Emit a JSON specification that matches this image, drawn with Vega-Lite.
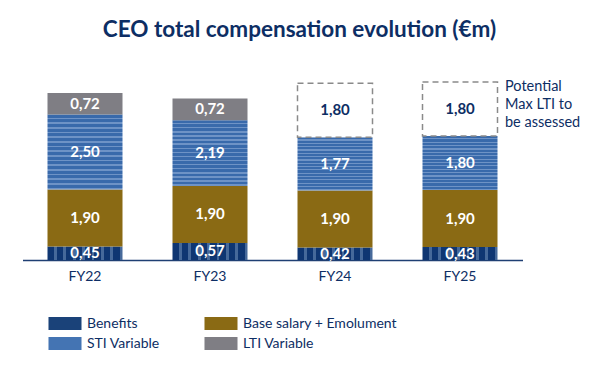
{
  "$schema": "https://vega.github.io/schema/vega-lite/v6.json",
  "width": 500,
  "height": 180,
  "autosize": {"type": "none"},
  "padding": {"left": 22.5, "top": 80, "right": 77.5, "bottom": 116},
  "background": "white",
  "title": {
    "text": "CEO total compensation evolution (€m)",
    "font": "Lato",
    "fontSize": 22.5,
    "fontWeight": "bold",
    "color": "#0d2e64",
    "anchor": "middle",
    "dx": 27,
    "offset": 38
  },
  "config": {
    "view": {"stroke": null},
    "font": "Lato"
  },
  "datasets": {
    "comp": [
      {"year": "FY22", "component": "Benefits", "k": 1, "value": 0.45, "status": "actual"},
      {"year": "FY22", "component": "Base salary + Emolument", "k": 2, "value": 1.90, "status": "actual"},
      {"year": "FY22", "component": "STI Variable", "k": 3, "value": 2.50, "status": "actual"},
      {"year": "FY22", "component": "LTI Variable", "k": 4, "value": 0.72, "status": "actual"},
      {"year": "FY23", "component": "Benefits", "k": 1, "value": 0.57, "status": "actual"},
      {"year": "FY23", "component": "Base salary + Emolument", "k": 2, "value": 1.90, "status": "actual"},
      {"year": "FY23", "component": "STI Variable", "k": 3, "value": 2.19, "status": "actual"},
      {"year": "FY23", "component": "LTI Variable", "k": 4, "value": 0.72, "status": "actual"},
      {"year": "FY24", "component": "Benefits", "k": 1, "value": 0.42, "status": "actual"},
      {"year": "FY24", "component": "Base salary + Emolument", "k": 2, "value": 1.90, "status": "actual"},
      {"year": "FY24", "component": "STI Variable", "k": 3, "value": 1.77, "status": "actual"},
      {"year": "FY24", "component": "LTI Variable", "k": 4, "value": 1.80, "status": "potential"},
      {"year": "FY25", "component": "Benefits", "k": 1, "value": 0.43, "status": "actual"},
      {"year": "FY25", "component": "Base salary + Emolument", "k": 2, "value": 1.90, "status": "actual"},
      {"year": "FY25", "component": "STI Variable", "k": 3, "value": 1.80, "status": "actual"},
      {"year": "FY25", "component": "LTI Variable", "k": 4, "value": 1.80, "status": "potential"}
    ],
    "note": [
      {"year": "FY25", "top": 5.93, "note": ["Potential", "Max LTI to", "be assessed"]}
    ]
  },
  "layer": [
    {
      "data": {"name": "comp"},
      "transform": [
        {"stack": "value", "groupby": ["year"], "sort": [{"field": "k", "order": "ascending"}], "as": ["v0", "v1"]}
      ],
      "mark": {"type": "bar", "strokeWidth": 1.5},
      "encoding": {
        "x": {
          "field": "year", "type": "nominal",
          "scale": {"paddingInner": 0.4, "paddingOuter": 0.2},
          "axis": {
            "title": null, "labelAngle": 0, "ticks": false,
            "labelFont": "Lato", "labelFontSize": 14, "labelColor": "#0d2e64",
            "labelPadding": 9, "domainColor": "#1f3f73", "domainWidth": 1.5
          }
        },
        "y": {"field": "v0", "type": "quantitative", "scale": {"domain": [0, 6]}, "axis": null},
        "y2": {"field": "v1"},
        "color": {
          "condition": [
            {"test": "datum.status === 'potential'", "value": "white"},
            {"test": "datum.component === 'Benefits'", "value": {"gradient": "linear", "x1": 0, "y1": 0, "x2": 1, "y2": 0, "stops": [
                {"offset": 0, "color": "#0f3672"}, {"offset": 0.0875, "color": "#0f3672"}, {"offset": 0.0875, "color": "#46699a"}, {"offset": 0.125, "color": "#46699a"},
                {"offset": 0.125, "color": "#0f3672"}, {"offset": 0.2125, "color": "#0f3672"}, {"offset": 0.2125, "color": "#46699a"}, {"offset": 0.25, "color": "#46699a"},
                {"offset": 0.25, "color": "#0f3672"}, {"offset": 0.3375, "color": "#0f3672"}, {"offset": 0.3375, "color": "#46699a"}, {"offset": 0.375, "color": "#46699a"},
                {"offset": 0.375, "color": "#0f3672"}, {"offset": 0.4625, "color": "#0f3672"}, {"offset": 0.4625, "color": "#46699a"}, {"offset": 0.5, "color": "#46699a"},
                {"offset": 0.5, "color": "#0f3672"}, {"offset": 0.5875, "color": "#0f3672"}, {"offset": 0.5875, "color": "#46699a"}, {"offset": 0.625, "color": "#46699a"},
                {"offset": 0.625, "color": "#0f3672"}, {"offset": 0.7125, "color": "#0f3672"}, {"offset": 0.7125, "color": "#46699a"}, {"offset": 0.75, "color": "#46699a"},
                {"offset": 0.75, "color": "#0f3672"}, {"offset": 0.8375, "color": "#0f3672"}, {"offset": 0.8375, "color": "#46699a"}, {"offset": 0.875, "color": "#46699a"},
                {"offset": 0.875, "color": "#0f3672"}, {"offset": 0.9625, "color": "#0f3672"}, {"offset": 0.9625, "color": "#46699a"}, {"offset": 1, "color": "#46699a"}
              ]}},
            {"test": "datum.component === 'STI Variable'", "value": {"gradient": "linear", "x1": 0, "y1": 0, "x2": 0, "y2": 1, "stops": [
                {"offset": 0, "color": "#396aab"}, {"offset": 0.040625, "color": "#396aab"}, {"offset": 0.040625, "color": "#6e93c6"}, {"offset": 0.0625, "color": "#6e93c6"},
                {"offset": 0.0625, "color": "#396aab"}, {"offset": 0.103125, "color": "#396aab"}, {"offset": 0.103125, "color": "#6e93c6"}, {"offset": 0.125, "color": "#6e93c6"},
                {"offset": 0.125, "color": "#396aab"}, {"offset": 0.165625, "color": "#396aab"}, {"offset": 0.165625, "color": "#6e93c6"}, {"offset": 0.1875, "color": "#6e93c6"},
                {"offset": 0.1875, "color": "#396aab"}, {"offset": 0.228125, "color": "#396aab"}, {"offset": 0.228125, "color": "#6e93c6"}, {"offset": 0.25, "color": "#6e93c6"},
                {"offset": 0.25, "color": "#396aab"}, {"offset": 0.290625, "color": "#396aab"}, {"offset": 0.290625, "color": "#6e93c6"}, {"offset": 0.3125, "color": "#6e93c6"},
                {"offset": 0.3125, "color": "#396aab"}, {"offset": 0.353125, "color": "#396aab"}, {"offset": 0.353125, "color": "#6e93c6"}, {"offset": 0.375, "color": "#6e93c6"},
                {"offset": 0.375, "color": "#396aab"}, {"offset": 0.415625, "color": "#396aab"}, {"offset": 0.415625, "color": "#6e93c6"}, {"offset": 0.4375, "color": "#6e93c6"},
                {"offset": 0.4375, "color": "#396aab"}, {"offset": 0.478125, "color": "#396aab"}, {"offset": 0.478125, "color": "#6e93c6"}, {"offset": 0.5, "color": "#6e93c6"},
                {"offset": 0.5, "color": "#396aab"}, {"offset": 0.540625, "color": "#396aab"}, {"offset": 0.540625, "color": "#6e93c6"}, {"offset": 0.5625, "color": "#6e93c6"},
                {"offset": 0.5625, "color": "#396aab"}, {"offset": 0.603125, "color": "#396aab"}, {"offset": 0.603125, "color": "#6e93c6"}, {"offset": 0.625, "color": "#6e93c6"},
                {"offset": 0.625, "color": "#396aab"}, {"offset": 0.665625, "color": "#396aab"}, {"offset": 0.665625, "color": "#6e93c6"}, {"offset": 0.6875, "color": "#6e93c6"},
                {"offset": 0.6875, "color": "#396aab"}, {"offset": 0.728125, "color": "#396aab"}, {"offset": 0.728125, "color": "#6e93c6"}, {"offset": 0.75, "color": "#6e93c6"},
                {"offset": 0.75, "color": "#396aab"}, {"offset": 0.790625, "color": "#396aab"}, {"offset": 0.790625, "color": "#6e93c6"}, {"offset": 0.8125, "color": "#6e93c6"},
                {"offset": 0.8125, "color": "#396aab"}, {"offset": 0.853125, "color": "#396aab"}, {"offset": 0.853125, "color": "#6e93c6"}, {"offset": 0.875, "color": "#6e93c6"},
                {"offset": 0.875, "color": "#396aab"}, {"offset": 0.915625, "color": "#396aab"}, {"offset": 0.915625, "color": "#6e93c6"}, {"offset": 0.9375, "color": "#6e93c6"},
                {"offset": 0.9375, "color": "#396aab"}, {"offset": 0.978125, "color": "#396aab"}, {"offset": 0.978125, "color": "#6e93c6"}, {"offset": 1, "color": "#6e93c6"}
              ]}}
          ],
          "field": "component", "type": "nominal",
          "scale": {
            "domain": ["Benefits", "Base salary + Emolument", "STI Variable", "LTI Variable"],
            "range": ["#1a4279", "#8a6a14", "#4474b3", "#7f7e84"]
          },
          "legend": {
            "title": null,
            "orient": "none",
            "legendX": 35.5,
            "legendY": 236.5,
            "direction": "horizontal",
            "columns": 2,
            "columnPadding": 44,
            "rowPadding": 6,
            "padding": 0,
            "symbolType": "M-2.54,-1H2.54V1H-2.54Z",
            "symbolSize": 169,
            "symbolStrokeWidth": 0,
            "symbolOpacity": 1,
            "labelFont": "Lato",
            "labelFontSize": 14,
            "labelColor": "#0d2e64",
            "labelOffset": 15,
            "labelLimit": 300,
            "encode": {
              "symbols": {
                "update": {
                  "fill": {"signal": "datum.label === 'Benefits' ? {gradient: 'linear', x1: 0, y1: 0, x2: 1, y2: 0, stops: [{offset: 0, color: '#0f3672'}, {offset: 0.117, color: '#0f3672'}, {offset: 0.117, color: '#46699a'}, {offset: 0.167, color: '#46699a'}, {offset: 0.167, color: '#0f3672'}, {offset: 0.283, color: '#0f3672'}, {offset: 0.283, color: '#46699a'}, {offset: 0.333, color: '#46699a'}, {offset: 0.333, color: '#0f3672'}, {offset: 0.45, color: '#0f3672'}, {offset: 0.45, color: '#46699a'}, {offset: 0.5, color: '#46699a'}, {offset: 0.5, color: '#0f3672'}, {offset: 0.617, color: '#0f3672'}, {offset: 0.617, color: '#46699a'}, {offset: 0.667, color: '#46699a'}, {offset: 0.667, color: '#0f3672'}, {offset: 0.783, color: '#0f3672'}, {offset: 0.783, color: '#46699a'}, {offset: 0.833, color: '#46699a'}, {offset: 0.833, color: '#0f3672'}, {offset: 0.95, color: '#0f3672'}, {offset: 0.95, color: '#46699a'}, {offset: 1, color: '#46699a'}]} : datum.label === 'STI Variable' ? {gradient: 'linear', x1: 0, y1: 0, x2: 0, y2: 1, stops: [{offset: 0, color: '#396aab'}, {offset: 0.22, color: '#396aab'}, {offset: 0.22, color: '#6e93c6'}, {offset: 0.333, color: '#6e93c6'}, {offset: 0.333, color: '#396aab'}, {offset: 0.555, color: '#396aab'}, {offset: 0.555, color: '#6e93c6'}, {offset: 0.667, color: '#6e93c6'}, {offset: 0.667, color: '#396aab'}, {offset: 0.889, color: '#396aab'}, {offset: 0.889, color: '#6e93c6'}, {offset: 1, color: '#6e93c6'}]} : scale('color', datum.value)"}
                }
              }
            }
          }
        },
        "stroke": {"condition": {"test": "datum.status === 'potential'", "value": "#8a8a8a"}, "value": null},
        "strokeDash": {"condition": {"test": "datum.status === 'potential'", "value": [6, 4]}, "value": [1, 0]}
      }
    },
    {
      "data": {"name": "comp"},
      "transform": [
        {"stack": "value", "groupby": ["year"], "sort": [{"field": "k", "order": "ascending"}], "as": ["v0", "v1"]},
        {"calculate": "(datum.v0 + datum.v1) / 2", "as": "mid"},
        {"calculate": "replace(format(datum.value, '.2f'), '.', ',')", "as": "label"}
      ],
      "mark": {"type": "text", "font": "Lato", "fontSize": 15, "fontWeight": "bold", "baseline": "middle"},
      "encoding": {
        "x": {"field": "year", "type": "nominal"},
        "y": {"field": "mid", "type": "quantitative"},
        "text": {"field": "label"},
        "color": {"condition": {"test": "datum.status === 'potential'", "value": "#0d2e64"}, "value": "white"}
      }
    },
    {
      "data": {"name": "note"},
      "mark": {"type": "text", "font": "Lato", "fontSize": 14.5, "align": "left", "baseline": "top", "dx": 45, "dy": -2, "lineHeight": 18, "color": "#0d2e64"},
      "encoding": {
        "x": {"field": "year", "type": "nominal"},
        "y": {"field": "top", "type": "quantitative"},
        "text": {"field": "note"}
      }
    }
  ]
}
